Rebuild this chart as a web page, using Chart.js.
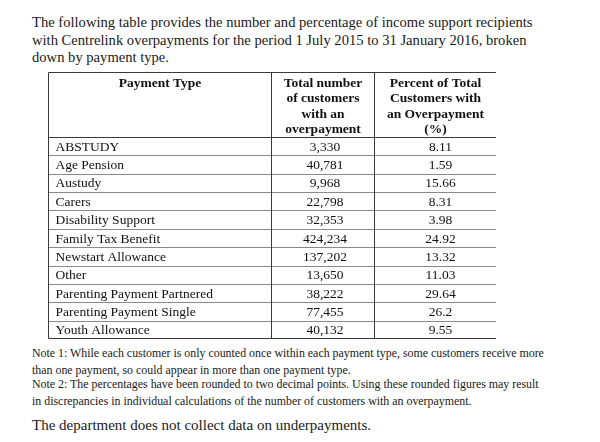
<!DOCTYPE html>
<html>
<head>
<meta charset="utf-8">
<script src="https://cdn.jsdelivr.net/npm/chart.js@4"></script>
<style>
  body { margin: 0; background: #fff; font-family: "Liberation Serif", "Times New Roman", serif; color: #1a1a1a; }
  .intro { position: absolute; left: 32px; top: 14px; font-size: 14.6px; line-height: 17.5px; white-space: nowrap; }
  .note { position: absolute; left: 32px; font-size: 11.9px; line-height: 17px; white-space: nowrap; }
  .last { position: absolute; left: 32px; top: 417px; font-size: 15px; white-space: nowrap; }
  #tableChart { position: absolute; left: 48px; top: 72px; }
</style>
</head>
<body>
<div class="intro">The following table provides the number and percentage of income support recipients<br>with Centrelink overpayments for the period 1 July 2015 to 31 January 2016, broken<br>down by payment type.</div>

<canvas id="tableChart" width="448" height="268"></canvas>

<div class="note" style="top:345px">Note 1: While each customer is only counted once within each payment type, some customers receive more<br>than one payment, so could appear in more than one payment type.</div>
<div class="note" style="top:376px">Note 2: The percentages have been rounded to two decimal points. Using these rounded figures may result<br>in discrepancies in individual calculations of the number of customers with an overpayment.</div>
<div class="last">The department does not collect data on underpayments.</div>

<script>
// table data
const paymentTypes = ['ABSTUDY', 'Age Pension', 'Austudy', 'Carers', 'Disability Support', 'Family Tax Benefit',
    'Newstart Allowance', 'Other', 'Parenting Payment Partnered', 'Parenting Payment Single', 'Youth Allowance'];
const customerCounts = [3330, 40781, 9968, 22798, 32353, 424234, 137202, 13650, 38222, 77455, 40132];
const overpaymentPct = ['8.11', '1.59', '15.66', '8.31', '3.98', '24.92', '13.32', '11.03', '29.64', '26.2', '9.55'];
const headers = [
    ['Payment Type'],
    ['Total number', 'of customers', 'with an', 'overpayment'],
    ['Percent of Total', 'Customers with', 'an Overpayment', '(%)']
];

// column edges on the hidden 0..1 layout axis
const colEdges = [0, 0.497, 0.727, 1];

const tablePlugin = {
    id: 'tableCells',
    afterDraw(chart) {
        const ctx = chart.ctx;
        const a = chart.chartArea;
        const x = chart.scales.x;
        const y = chart.scales.y;
        const band = y.getPixelForValue(1) - y.getPixelForValue(0);
        const xs = colEdges.map(v => Math.round(x.getPixelForValue(v)) + 0.5);
        const top = 0.5;
        const bottom = Math.round(y.getPixelForValue(paymentTypes.length - 1) + band / 2) - 0.5;

        ctx.save();
        // row lines
        ctx.strokeStyle = '#8a8a8a';
        ctx.lineWidth = 1;
        for (let i = 1; i < paymentTypes.length; i++) {
            const py = Math.round(y.getPixelForValue(i) - band / 2) + 0.5;
            ctx.beginPath();
            ctx.moveTo(xs[0], py);
            ctx.lineTo(xs[3], py);
            ctx.stroke();
        }
        // header line, column lines and border
        ctx.strokeStyle = '#3a3a3a';
        const hy = Math.round(a.top) + 0.5;
        ctx.beginPath();
        ctx.moveTo(xs[0], hy);
        ctx.lineTo(xs[3], hy);
        ctx.stroke();
        xs.forEach(px => {
            ctx.beginPath();
            ctx.moveTo(px, top);
            ctx.lineTo(px, bottom);
            ctx.stroke();
        });
        ctx.beginPath();
        ctx.moveTo(xs[0], top);
        ctx.lineTo(xs[3], top);
        ctx.moveTo(xs[0], bottom);
        ctx.lineTo(xs[3], bottom);
        ctx.stroke();

        // header text
        ctx.fillStyle = '#111';
        ctx.textAlign = 'center';
        ctx.textBaseline = 'middle';
        ctx.font = 'bold 13.5px "Liberation Serif"';
        headers.forEach((lines, c) => {
            const cx = (xs[c] + xs[c + 1]) / 2;
            lines.forEach((t, j) => ctx.fillText(t, cx, 11.5 + j * 15.5));
        });

        // body cells
        ctx.font = '13.5px "Liberation Serif"';
        paymentTypes.forEach((name, i) => {
            const py = y.getPixelForValue(i) + 1;
            ctx.textAlign = 'left';
            ctx.fillText(name, xs[0] + 7, py);
            ctx.textAlign = 'center';
            ctx.fillText(customerCounts[i].toLocaleString('en-US'), (xs[1] + xs[2]) / 2 + 2, py);
            ctx.fillText(overpaymentPct[i], (xs[2] + xs[3]) / 2 + 5, py);
        });
        ctx.restore();
    }
};

const ctx = document.getElementById('tableChart').getContext('2d');
const tableChart = new Chart(ctx, {
    type: 'bar',
    data: {
        labels: paymentTypes,
        datasets: [
            { label: 'Total number of customers', data: customerCounts, xAxisID: 'xCount', backgroundColor: 'rgba(0,0,0,0)' },
            { label: 'Percent', data: overpaymentPct.map(Number), xAxisID: 'xPct', backgroundColor: 'rgba(0,0,0,0)' }
        ]
    },
    options: {
        indexAxis: 'y',
        responsive: false,
        animation: false,
        events: [],
        layout: { padding: { top: 65, left: 0, right: 0, bottom: 1 } },
        plugins: { legend: { display: false }, tooltip: { enabled: false } },
        scales: {
            y: { type: 'category', display: false, offset: true },
            x: { type: 'linear', display: false, min: 0, max: 1 },
            xCount: { type: 'linear', display: false, min: 0 },
            xPct: { type: 'linear', display: false, min: 0 }
        }
    },
    plugins: [tablePlugin]
});
</script>
</body>
</html>
